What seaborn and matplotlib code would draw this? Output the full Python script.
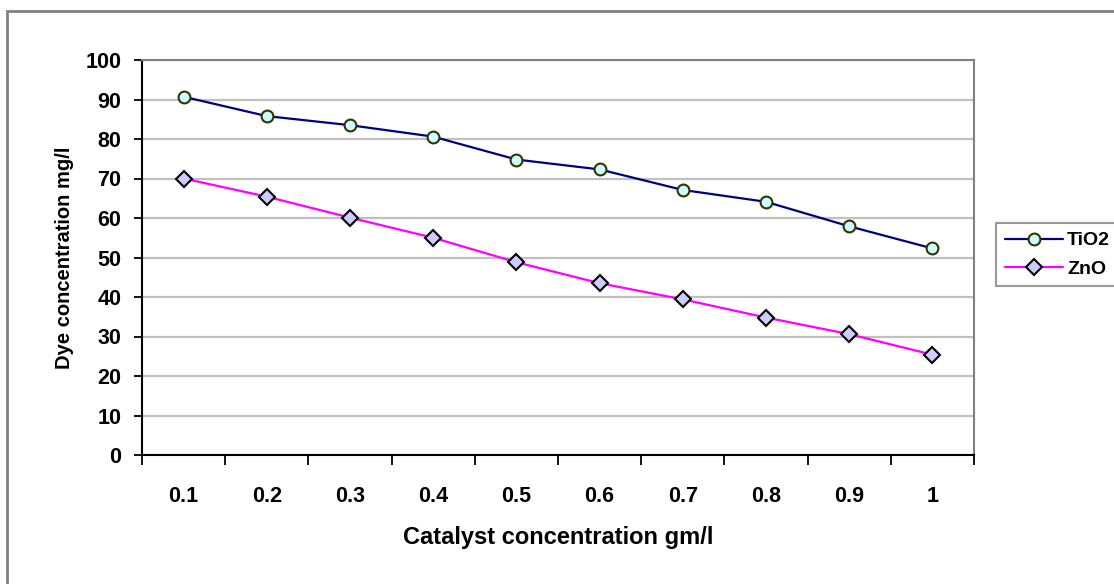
import matplotlib
matplotlib.use("Agg")
import matplotlib.pyplot as plt
import seaborn as sns
import pandas as pd
from matplotlib.patches import Rectangle
from matplotlib.lines import Line2D

catalyst = [0.1, 0.2, 0.3, 0.4, 0.5, 0.6, 0.7, 0.8, 0.9, 1.0]
tick_labels = ["0.1", "0.2", "0.3", "0.4", "0.5", "0.6", "0.7", "0.8", "0.9", "1"]
tio2 = [90.7, 85.8, 83.5, 80.6, 74.8, 72.3, 67.1, 64.1, 57.9, 52.3]
zno = [70.0, 65.4, 60.1, 55.0, 48.8, 43.5, 39.4, 34.8, 30.6, 25.4]

df = pd.DataFrame({
    "Catalyst": catalyst * 2,
    "Dye": tio2 + zno,
    "Series": ["TiO2"] * len(catalyst) + ["ZnO"] * len(catalyst),
})

sns.set_theme(style="white")
plt.rcParams["font.family"] = ["Liberation Sans", "DejaVu Sans"]
plt.rcParams["font.weight"] = "bold"
plt.rcParams["text.color"] = "black"
plt.rcParams["axes.labelcolor"] = "black"
plt.rcParams["xtick.color"] = "black"
plt.rcParams["ytick.color"] = "black"

fig = plt.figure(figsize=(11.14, 5.84), dpi=100)
ax = fig.add_axes([142 / 1114, 1 - 455 / 584, (974 - 142) / 1114, (455 - 60) / 584])

styles = {
    "TiO2": dict(color="#000080", marker="o", markerfacecolor="#CCFFFF", markeredgecolor="#333300", markersize=8.5),
    "ZnO": dict(color="#FF00FF", marker="D", markerfacecolor="#CCCCFF", markeredgecolor="#000000", markersize=8),
}
for name, st in styles.items():
    sns.lineplot(data=df[df["Series"] == name], x="Catalyst", y="Dye", ax=ax,
                 linewidth=1.6, markeredgewidth=1.5, legend=False, zorder=3, **st)

ax.set_xlim(0.05, 1.05)
ax.set_ylim(0, 100)
ax.set_yticks(range(0, 101, 10))
ax.set_xticks(catalyst)
ax.set_xticklabels(tick_labels)
bounds = [c - 0.05 for c in catalyst] + [1.05]
ax.set_xticks(bounds, minor=True)
ax.yaxis.grid(True, color="#C0C0C0", linewidth=1.6)
ax.xaxis.grid(False)
ax.set_axisbelow(True)

for s in ["left", "bottom"]:
    ax.spines[s].set_color("black")
    ax.spines[s].set_linewidth(1.5)
for s in ["top", "right"]:
    ax.spines[s].set_color("#808080")
    ax.spines[s].set_linewidth(1.5)

ax.tick_params(axis="y", which="major", direction="out", length=6, width=1.3, color="black",
               left=True, labelsize=15.5, pad=9)
ax.tick_params(axis="x", which="major", length=0, labelsize=15.5, pad=22)
ax.tick_params(axis="x", which="minor", direction="out", length=7, width=1.3, color="black", bottom=True)
for lab in ax.get_xticklabels() + ax.get_yticklabels():
    lab.set_fontweight("bold")

ax.set_xlabel("Catalyst concentration gm/l", fontsize=17, fontweight="bold", labelpad=14)
ax.set_ylabel("Dye concentration mg/l", fontsize=14.5, fontweight="bold", labelpad=8)

handles = [Line2D([0], [0], linewidth=1.6, markeredgewidth=1.5, **styles[n]) for n in styles]
leg = fig.legend(handles, list(styles.keys()), loc="upper left",
                 bbox_to_anchor=(996 / 1114, 1 - 223 / 584), frameon=True, fancybox=False,
                 edgecolor="#808080", prop={"weight": "bold", "size": 14}, handlelength=3.0,
                 handletextpad=0.2, borderpad=0.45, labelspacing=0.55, borderaxespad=0)
leg.get_frame().set_linewidth(1.5)

fig.patches.append(Rectangle((7 / 1114, -0.1), 1.2, (1 - 11 / 584) + 0.1, transform=fig.transFigure,
                             fill=False, edgecolor="#808080", linewidth=2, zorder=0))

fig.savefig("out.png", dpi=100)
